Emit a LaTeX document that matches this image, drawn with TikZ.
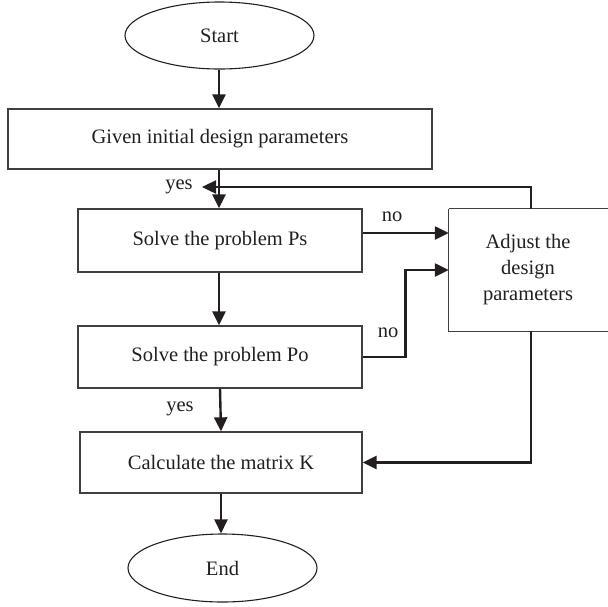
\documentclass[tikz,border=0pt]{standalone}
\usepackage{fontspec}
\setmainfont{Liberation Serif}
\usetikzlibrary{shapes.geometric,arrows.meta,calc}
\definecolor{ink}{HTML}{231F20}
\definecolor{frame}{HTML}{404040}
\begin{document}
\begin{tikzpicture}[x=1pt,y=1pt,
  every node/.style={text=ink,font=\fontsize{20.5}{26}\selectfont},
  boxnode/.style={draw=frame,line width=1.3pt,rectangle,inner sep=0pt},
  openbox/.style={rectangle,inner sep=0pt},
  ovalnode/.style={draw=ink,line width=1.1pt,ellipse,inner sep=0pt},
  lbl/.style={inner sep=0pt},
  conn/.style={draw=ink,line width=2.4pt},
  arr/.style={conn,-{Triangle[length=14pt,width=13pt]}}]
\useasboundingbox (0,0) rectangle (608,-606);
\node[ovalnode,minimum width=189pt,minimum height=67pt] (start) at (219.5,-35.5) {Start};
\node[boxnode,minimum width=424pt,minimum height=60pt] (b1) at (220,-139) {Given initial design parameters};
\node[boxnode,minimum width=284pt,minimum height=63pt] (ps) at (220,-240.5) {Solve the problem Ps};
\node[boxnode,minimum width=284pt,minimum height=62pt] (po) at (220,-357) {Solve the problem Po};
\node[boxnode,minimum width=282pt,minimum height=61pt] (k) at (221,-462.5) {Calculate the matrix K};
\node[ovalnode,minimum width=189pt,minimum height=68pt] (end) at (222.5,-568) {End};
\node[openbox,minimum width=158pt,minimum height=122pt,align=center] (adj) at (528,-270) {Adjust the\\design\\parameters};
\draw[frame,line width=1.3pt] (adj.north west) -- ++(170,0) (adj.north west) -- (adj.south west) -- ++(170,0);
\coordinate (fb) at (202,-187);
\node[lbl] (yes1) at (179,-187) {yes};
\node[lbl] (no1) at (392,-217) {no};
\node[lbl] (no2) at (388,-333) {no};
\node[lbl] (yes2) at (180,-409) {yes};
\draw[arr] (start.south -| 219,0) -- (b1.north -| 219,0);
\draw[arr] (b1.south -| 219,0) -- (ps.north -| 219,0);
\draw[arr] (adj.north -| 531,0) |- (fb);
\draw[arr] ([yshift=7.5pt]ps.east) -- ([yshift=7.5pt]ps.east -| adj.west);
\draw[arr] (po.east) -- ++(43,0) |- (adj.west);
\draw[arr] (ps.south -| 219,0) -- (po.north -| 219,0);
\draw[arr] (po.south -| 220,0) -- (k.north -| 221,0);
\draw[arr] (adj.south -| 531,0) |- (k.east);
\draw[arr] (k.south -| 221,0) -- (end.north -| 221,0);
\end{tikzpicture}
\end{document}
